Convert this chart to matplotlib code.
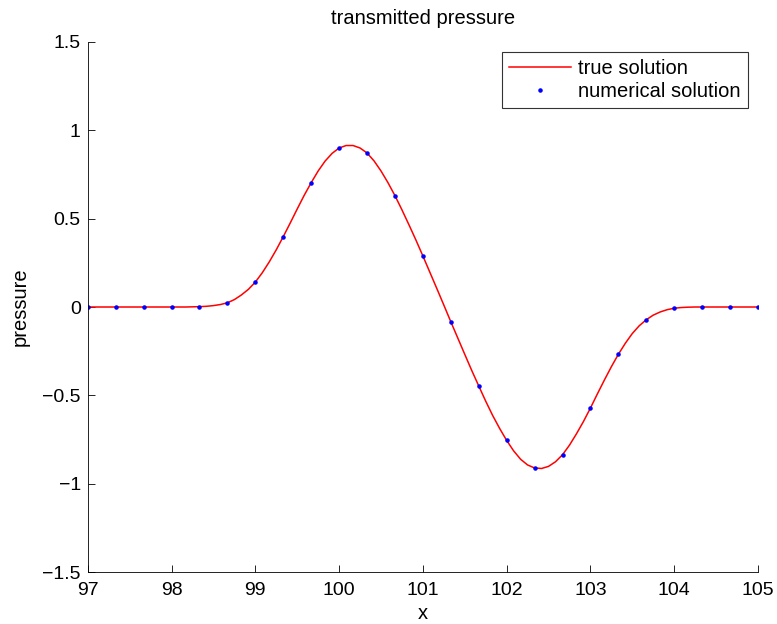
import numpy as np
import matplotlib
matplotlib.use("Agg")
import matplotlib.pyplot as plt

plt.rcParams['font.family'] = ['Liberation Sans', 'DejaVu Sans']

# exact solution (flat parts coarse, pulse every 1/12)
x_true = [97.0, 97.333, 97.667, 98.0, 98.167,
          98.25, 98.333, 98.417, 98.5, 98.583, 98.667, 98.75, 98.833, 98.917, 99.0,
          99.083, 99.167, 99.25, 99.333, 99.417, 99.5, 99.583, 99.667, 99.75, 99.833,
          99.917, 100.0, 100.083, 100.167, 100.25, 100.333, 100.417, 100.5, 100.583, 100.667,
          100.75, 100.833, 100.917, 101.0, 101.083, 101.167, 101.25, 101.333, 101.417, 101.5,
          101.583, 101.667, 101.75, 101.833, 101.917, 102.0, 102.083, 102.167, 102.25, 102.333,
          102.417, 102.5, 102.583, 102.667, 102.75, 102.833, 102.917, 103.0, 103.083, 103.167,
          103.25, 103.333, 103.417, 103.5, 103.583, 103.667, 103.75, 103.833, 103.917, 104.0,
          104.083, 104.167, 104.25, 104.333, 104.667, 105.0]
p_true = [0.0, 0.0, 0.0, 0.0, 0.0,
          0.001, 0.002, 0.004, 0.008, 0.014, 0.024, 0.042, 0.068, 0.100, 0.141,
          0.194, 0.256, 0.324, 0.398, 0.476, 0.555, 0.632, 0.704, 0.770, 0.826,
          0.870, 0.900, 0.914, 0.914, 0.900, 0.872, 0.827, 0.770, 0.704, 0.630,
          0.550, 0.466, 0.379, 0.289, 0.197, 0.104, 0.011, -0.083, -0.176, -0.268,
          -0.359, -0.447, -0.533, -0.614, -0.688, -0.755, -0.814, -0.862, -0.894, -0.911,
          -0.914, -0.902, -0.876, -0.836, -0.782, -0.718, -0.648, -0.572, -0.492, -0.413,
          -0.338, -0.268, -0.205, -0.150, -0.106, -0.072, -0.046, -0.028, -0.015, -0.007,
          -0.003, -0.001, 0.0, 0.0, 0.0, 0.0]

# numerical solution at the grid nodes
x_num = [97.0, 97.333, 97.667, 98.0, 98.333, 98.667, 99.0, 99.333, 99.667, 100.0,
         100.333, 100.667, 101.0, 101.333, 101.667, 102.0, 102.333, 102.667, 103.0, 103.333,
         103.667, 104.0, 104.333, 104.667, 105.0]
p_num = [0.0, 0.0, 0.0, 0.0, 0.002, 0.024, 0.141, 0.398, 0.704, 0.900,
         0.870, 0.630, 0.289, -0.083, -0.447, -0.755, -0.911, -0.836, -0.572, -0.268,
         -0.072, -0.007, 0.0, 0.0, 0.0]

xticks = [97, 98, 99, 100, 101, 102, 103, 104, 105]
yticks = [-1.5, -1, -0.5, 0, 0.5, 1, 1.5]
ylabels = ['\u22121.5', '\u22121', '\u22120.5', '0', '0.5', '1', '1.5']

fig = plt.figure(figsize=(7.77, 6.24), dpi=100)
ax = fig.add_axes([0.113, 0.0833, 0.8625, 0.8494])

ax.plot(x_true, p_true, color='red', lw=1.1, label='true solution')
ax.plot(x_num, p_num, '.', color='blue', ms=4.5, label='numerical solution')

ax.set_xlim(97, 105)
ax.set_ylim(-1.5, 1.5)
ax.set_xticks(xticks)
ax.set_yticks(yticks)
ax.set_yticklabels(ylabels)
ax.tick_params(direction='in', labelsize=14, length=5, width=0.6)
ax.tick_params(axis='x', pad=7)
ax.tick_params(axis='y', pad=5)
ax.spines['top'].set_visible(False)
ax.spines['right'].set_visible(False)
for s in ['left', 'bottom']:
    ax.spines[s].set_linewidth(0.6)

ax.set_title('transmitted pressure', fontsize=14.5, pad=13)
ax.set_xlabel('x', fontsize=14.5, labelpad=4)
ax.set_ylabel('pressure', fontsize=14.5, labelpad=9)

leg = ax.legend(loc='upper right', bbox_to_anchor=(0.985, 0.981), fontsize=14.5,
                frameon=True, fancybox=False, edgecolor='black', handlelength=3.1,
                borderpad=0.35, labelspacing=0.2, handletextpad=0.35, borderaxespad=0)
leg.get_frame().set_linewidth(0.8)

fig.savefig('out.png', dpi=100)
